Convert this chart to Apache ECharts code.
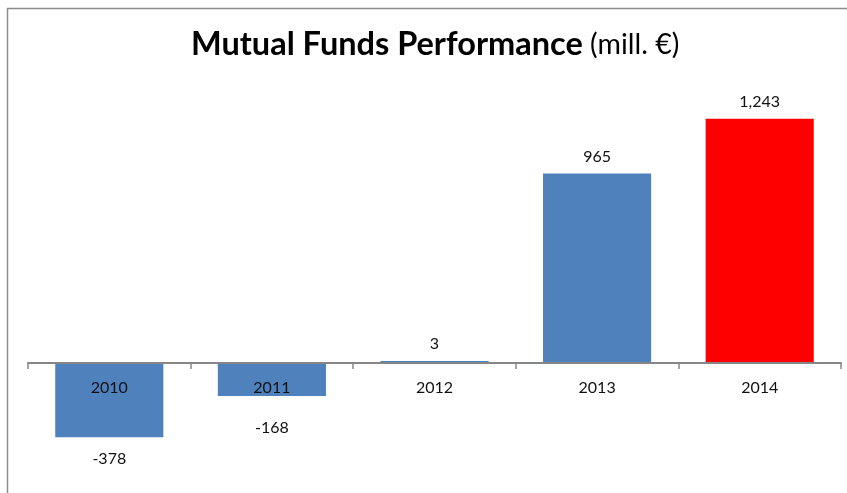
<!DOCTYPE html>
<html>
<head>
<meta charset="utf-8">
<script src="https://cdn.jsdelivr.net/npm/echarts@6/dist/echarts.min.js"></script>
<style>
  html, body { margin: 0; padding: 0; background: #ffffff; }
  #chart { width: 847px; height: 493px; }
</style>
</head>
<body>
<div id="chart"></div>
<script>
// Yearly net result of mutual funds, millions of euro
const years = ['2010', '2011', '2012', '2013', '2014'];
const values = [-378, -168, 3, 965, 1243];
// Latest year is highlighted
const barColors = ['#4F81BD', '#4F81BD', '#4F81BD', '#4F81BD', '#FF0000'];
// Extra gap between negative bars and their labels (keeps them clear of the year labels)
const negLabelGap = [14, 24, 0, 0, 0];

const FONT = 'Lato, "Open Sans", sans-serif';

const fmt = v => v.toLocaleString('en-US');

const chart = echarts.init(document.getElementById('chart'), null, { renderer: 'canvas' });

chart.setOption({
  animation: false,
  backgroundColor: '#ffffff',
  graphic: [{
    type: 'rect',
    shape: { x: 7.5, y: 8.5, width: 1000, height: 1000 },
    style: { fill: 'none', stroke: '#8c8c8c', lineWidth: 1.5 },
    z: 0
  }],
  title: {
    left: 191,
    top: 26,
    padding: 0,
    text: '{b|Mutual Funds Performance}{r| (mill. €)}',
    textStyle: {
      rich: {
        b: { fontFamily: FONT, fontWeight: 'bold', fontSize: 32.5, color: '#000000', lineHeight: 38 },
        r: { fontFamily: FONT, fontWeight: 'normal', fontSize: 28.5, color: '#000000', lineHeight: 38 }
      }
    }
  },
  // The grid ends at the zero line; negative bars hang below it (clip disabled)
  grid: { left: 28, right: 6, top: 87.9, bottom: 130, containLabel: false, outerBoundsMode: 'none' },
  xAxis: {
    type: 'category',
    data: years,
    z: 5,
    axisLine: { onZero: false, lineStyle: { color: '#868686', width: 2 } },
    axisTick: { show: true, length: 6, lineStyle: { color: '#868686', width: 1.5 } },
    axisLabel: { color: '#111111', fontFamily: FONT, fontSize: 16, margin: 17 },
    splitLine: { show: false }
  },
  yAxis: {
    type: 'value',
    min: 0,
    max: 1400,
    show: false,
    splitLine: { show: false }
  },
  series: [{
    type: 'bar',
    clip: false,
    barMinHeight: 2,
    barCategoryGap: '33.5%',
    data: values.map((v, i) => ({
      value: v,
      itemStyle: { color: barColors[i] },
      label: v < 0
        ? { position: 'bottom', distance: negLabelGap[i] }
        : { position: 'top', distance: 9 }
    })),
    label: {
      show: true,
      color: '#111111',
      fontFamily: FONT,
      fontSize: 16,
      formatter: p => fmt(p.value)
    }
  }]
});
</script>
</body>
</html>
